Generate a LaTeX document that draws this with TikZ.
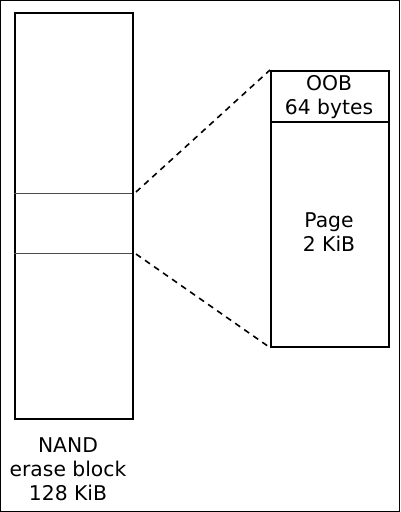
\documentclass[tikz,border=0pt]{standalone}
\usepackage{fontspec}
\setmainfont{DejaVu Sans}
\begin{document}
\begin{tikzpicture}[x=1pt,y=-1pt,
  blk/.style={draw=black,line width=1.6pt},
  thin/.style={draw=black!70,line width=0.8pt},
  dashline/.style={draw=black,line width=1.6pt,dash pattern=on 6pt off 5pt},
  lbl/.style={font=\fontsize{20.3}{24}\selectfont,align=center,inner sep=0pt}]
\useasboundingbox (0,0) rectangle (400,512);
\draw[draw=black,line width=1.2pt] (0.6,0.6) rectangle (399.4,511.4);
% left erase block
\node[blk,minimum width=118pt,minimum height=406pt,inner sep=0pt,anchor=north west] (eb) at (14,12) {};
\coordinate (l1) at (14,193);
\coordinate (r1) at (132,193);
\coordinate (l2) at (14,253);
\coordinate (r2) at (132,253);
\draw[thin] (l1) -- (r1);
\draw[thin] (l2) -- (r2);
% right page
\node[blk,minimum width=118pt,minimum height=276pt,inner sep=0pt,anchor=north west] (pg) at (270,70) {};
\coordinate (s1) at (270,122);
\coordinate (s2) at (388,122);
\draw[blk] (s1) -- (s2);
\node[lbl] (oob) at (329,97.5) {OOB\\64 bytes};
\node[lbl] (page) at (329,232.5) {Page\\2 KiB};
\node[lbl] (nand) at (68,469.5) {NAND\\erase block\\128 KiB};
% zoom lines
\coordinate (d1) at (136,192);
\coordinate (d2) at (136,254);
\draw[dashline] (d1) -- (pg.north west);
\draw[dashline] (d2) -- (pg.south west);
\end{tikzpicture}
\end{document}
